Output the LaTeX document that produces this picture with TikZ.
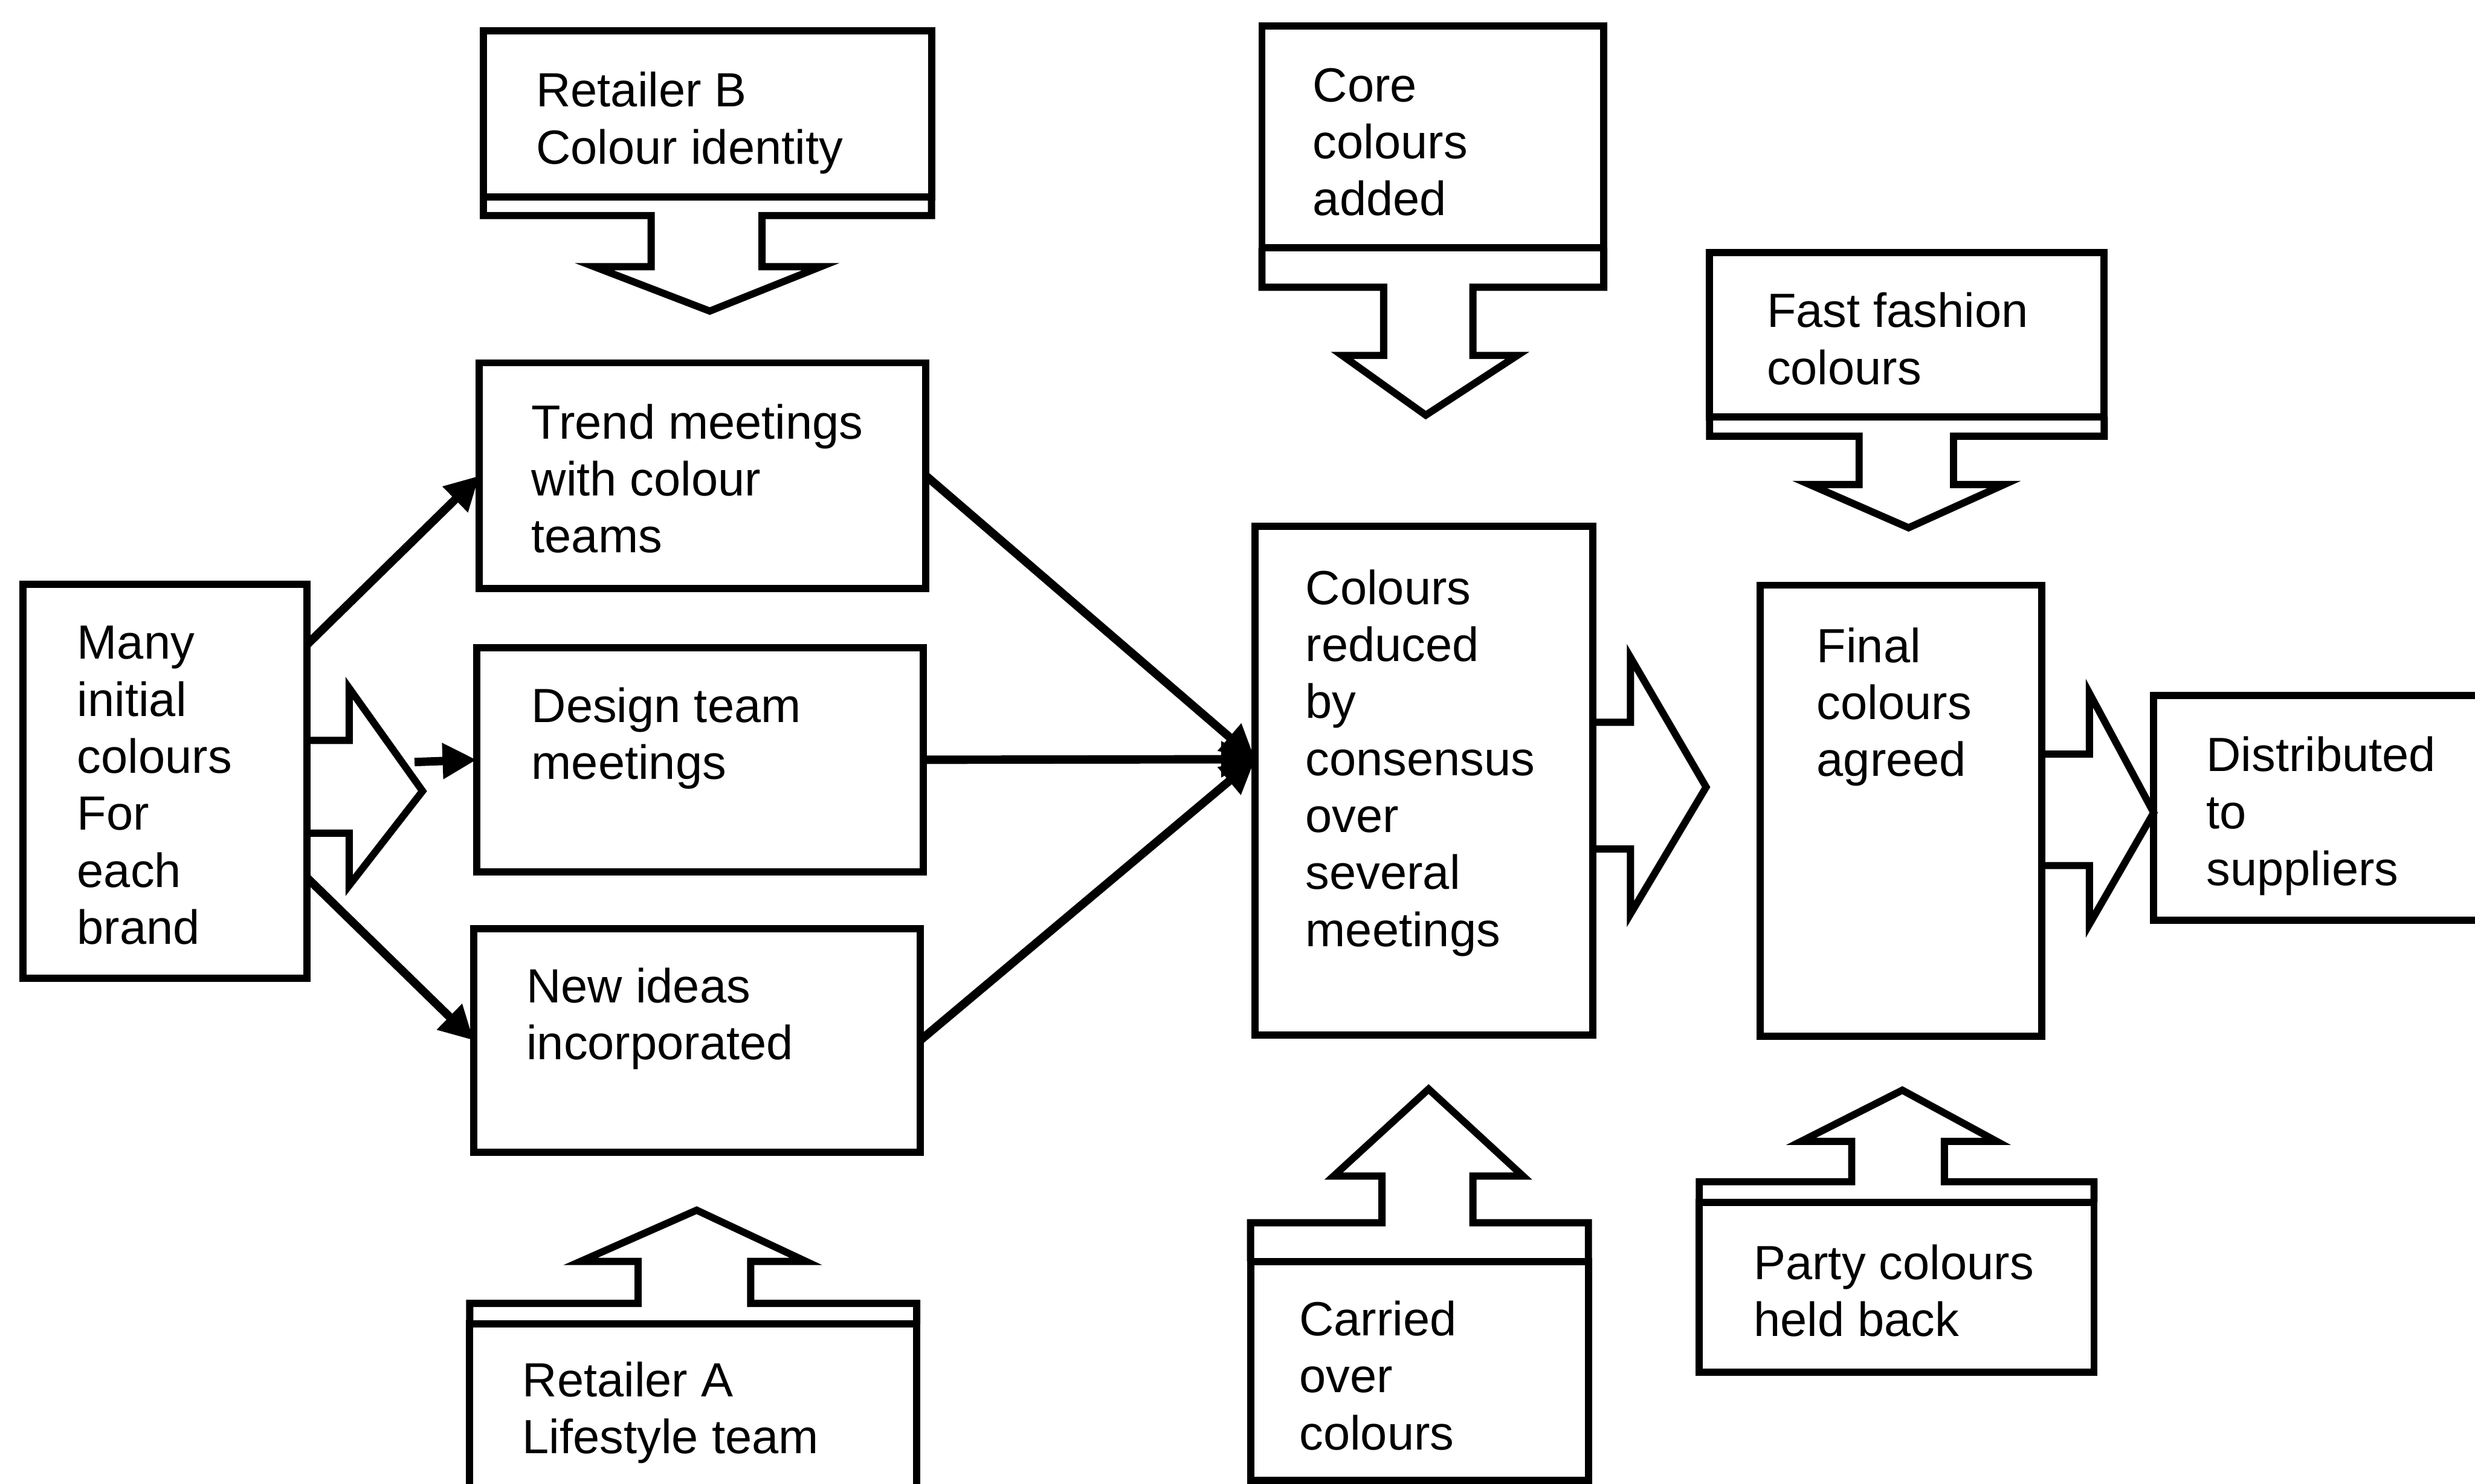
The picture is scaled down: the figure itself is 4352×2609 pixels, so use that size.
\documentclass[tikz,border=0pt]{standalone}
\usepackage{fontspec}
\setmainfont{Liberation Sans}
\usetikzlibrary{arrows.meta,fit,calc}

% Multi-line text nodes are placed by the baseline of their last line.
\tikzset{
  box/.style={draw, line width=3.6pt, inner sep=0pt, outer sep=0pt},
  txt/.style={anchor=base west, align=left, inner sep=0pt,
              font=\fontsize{24pt}{28.5pt}\selectfont},
  shell/.style={draw, line width=3.6pt, line join=miter},
  link/.style={line width=4.2pt, -{Triangle[length=17pt,width=17pt]}},
}

\begin{document}
\begin{tikzpicture}[x=0.01cm, y=-0.01cm]
  \useasboundingbox (0,0) rectangle (4352,2609);
  \fill[white] (0,0) rectangle (4352,2609);
  \clip (0,0) rectangle (4352,2609);

  % ---- plain process boxes ----
  \node[box, fit={(40,1027) (540,1720)}]    (many)   {};
  \node[box, fit={(843,638) (1628,1035)}]   (trend)  {};
  \node[box, fit={(838,1139) (1623,1533)}]  (design) {};
  \node[box, fit={(833,1633) (1618,2026)}]  (ideas)  {};
  \node[box, fit={(2207,925) (2801,1820)}]  (mid)    {};
  \node[box, fit={(3095,1029) (3590,1822)}] (final)  {};
  \node[box, fit={(3787,1223) (4420,1618)}] (dist)   {};

  % ---- input boxes with a strip and a block arrow ----
  \node[box, fit={(850,54) (1638,346)}] (rb) {};
  \draw[shell] (850,346) -- (850,379) -- (1145,379) -- (1145,469) -- (1045,469)
     -- (1248,547) -- (1443,469) -- (1340,469) -- (1340,379) -- (1638,379) -- (1638,346);

  \node[box, fit={(2219,46) (2820,436)}] (core) {};
  \draw[shell] (2219,436) -- (2219,505) -- (2433,505) -- (2433,625) -- (2360,625)
     -- (2507,730) -- (2668,625) -- (2590,625) -- (2590,505) -- (2820,505) -- (2820,436);

  \node[box, fit={(3006,444) (3700,733)}] (fast) {};
  \draw[shell] (3006,733) -- (3006,767) -- (3269,767) -- (3269,852) -- (3182,852)
     -- (3356,928) -- (3524,852) -- (3435,852) -- (3435,767) -- (3700,767) -- (3700,733);

  \node[box, fit={(826,2328) (1612,2660)}] (ra) {};
  \draw[shell] (826,2328) -- (826,2292) -- (1122,2292) -- (1122,2218) -- (1021,2218)
     -- (1225,2128) -- (1417,2218) -- (1320,2218) -- (1320,2292) -- (1612,2292) -- (1612,2328);

  \node[box, fit={(2199,2218) (2793,2603)}] (carried) {};
  \draw[shell] (2199,2218) -- (2199,2150) -- (2430,2150) -- (2430,2068) -- (2345,2068)
     -- (2512,1915) -- (2678,2068) -- (2590,2068) -- (2590,2150) -- (2793,2150) -- (2793,2218);

  \node[box, fit={(2988,2114) (3682,2413)}] (party) {};
  \draw[shell] (2988,2114) -- (2988,2078) -- (3256,2078) -- (3256,2007) -- (3167,2007)
     -- (3345,1917) -- (3511,2007) -- (3419,2007) -- (3419,2078) -- (3682,2078) -- (3682,2114);

  % ---- block arrows between stages ----
  \draw[shell] (540,1302) -- (614,1302) -- (614,1210) -- (743,1391)
     -- (614,1557) -- (614,1465) -- (540,1465);
  \draw[shell] (2801,1270) -- (2867,1270) -- (2867,1156) -- (3000,1384)
     -- (2867,1607) -- (2867,1493) -- (2801,1493);
  \draw[shell] (3590,1326) -- (3674,1326) -- (3674,1219) -- (3787,1429)
     -- (3674,1625) -- (3674,1522) -- (3590,1522);

  % ---- texts ----
  \node[txt] (rb-t)      at (942,288)   {Retailer B\\Colour identity};
  \node[txt] (core-t)    at (2308,379)  {Core\\colours\\added};
  \node[txt] (fast-t)    at (3106,676)  {Fast fashion\\colours};
  \node[txt] (trend-t)   at (934,972)   {Trend meetings\\with colour\\teams};
  \node[txt] (design-t)  at (934,1370)  {Design team\\meetings};
  \node[txt] (ideas-t)   at (925,1863)  {New ideas\\incorporated};
  \node[txt] (many-t)    at (135,1660)  {Many\\initial\\colours\\For\\each\\brand};
  \node[txt] (mid-t)     at (2295,1664) {Colours\\reduced\\by\\consensus\\over\\several\\meetings};
  \node[txt] (final-t)   at (3194,1365) {Final\\colours\\agreed};
  \node[txt] (dist-t)    at (3879,1557) {Distributed\\to\\suppliers};
  \node[txt] (ra-t)      at (918,2556)  {Retailer A\\Lifestyle team};
  \node[txt] (carried-t) at (2284,2549) {Carried\\over\\colours};
  \node[txt] (party-t)   at (3083,2350) {Party colours\\held back};

  % ---- connectors ----
  \coordinate (split) at (729,1340);
  \coordinate (hub) at ([yshift=0.375cm]mid.west);
  \draw[link] ([yshift=2.4cm]many.east) -- (trend.west);
  \draw[link] ([yshift=-1.7cm]many.east) -- (ideas.west);
  \draw[link] (split) -- (design.west);
  \draw[link] (trend.east) -- (hub);
  \draw[link] (design.east) -- (hub);
  \draw[link] (ideas.east) -- (hub);
\end{tikzpicture}
\end{document}
